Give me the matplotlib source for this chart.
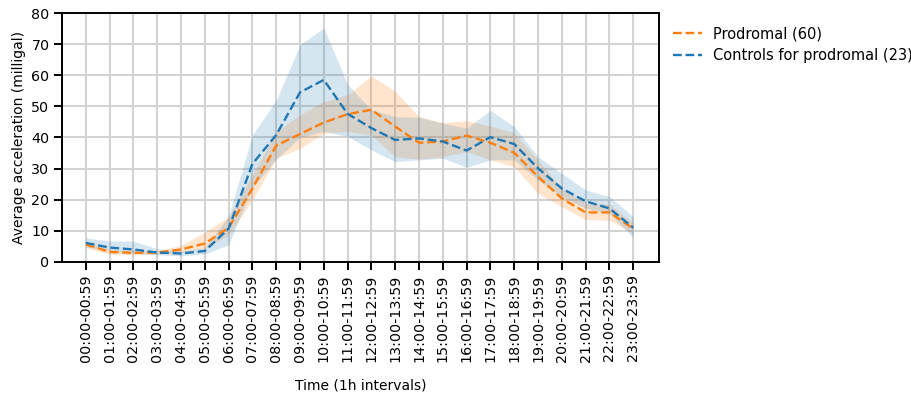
import matplotlib.pyplot as plt

hours = [f"{h:02d}:00-{h:02d}:59" for h in range(24)]

prodromal_mean = [5.6, 3.2, 2.9, 3.0, 4.0, 5.9, 11.0, 23.6, 37.4, 41.1, 44.8, 47.5,
                  48.9, 43.5, 38.3, 38.7, 40.6, 38.3, 35.1, 27.4, 20.4, 15.9, 15.9, 10.7]
prodromal_low = [4.5, 2.5, 2.3, 2.5, 3.0, 4.3, 8.6, 19.9, 33.3, 36.5, 41.4, 41.9,
                 40.8, 33.8, 33.0, 33.8, 35.4, 32.8, 30.6, 22.0, 17.7, 13.6, 13.4, 9.1]
prodromal_high = [6.5, 4.0, 3.7, 3.6, 5.3, 9.6, 14.5, 28.0, 41.9, 47.3, 51.6, 53.7,
                  59.8, 54.8, 46.7, 44.8, 45.4, 43.7, 41.4, 32.8, 23.6, 19.0, 18.6, 12.4]

control_mean = [6.1, 4.6, 4.0, 3.0, 2.7, 3.5, 10.7, 31.5, 40.8, 54.5, 58.5, 47.6,
                43.0, 39.2, 39.7, 38.7, 35.8, 40.1, 37.9, 30.1, 23.6, 19.5, 17.2, 11.0]
control_low = [4.8, 3.8, 2.8, 2.3, 2.0, 2.5, 5.5, 24.0, 33.0, 40.0, 42.0, 40.3,
               36.0, 32.2, 32.8, 33.3, 30.4, 32.8, 32.8, 26.3, 21.0, 17.2, 15.6, 7.8]
control_high = [7.7, 6.7, 6.7, 4.2, 3.5, 4.5, 14.7, 40.8, 52.0, 69.8, 75.2, 57.0,
                48.9, 46.7, 46.5, 44.6, 43.0, 48.7, 43.5, 33.8, 28.5, 23.1, 21.0, 14.5]

ORANGE = "#ff7f0e"
BLUE = "#1f77b4"

fig = plt.figure(figsize=(9.12, 3.95), dpi=100)
ax = fig.add_axes([0.068, 0.337, 0.655, 0.630])

x = list(range(len(hours)))
ax.fill_between(x, prodromal_low, prodromal_high, color=ORANGE, alpha=0.2, linewidth=0)
ax.fill_between(x, control_low, control_high, color=BLUE, alpha=0.18, linewidth=0)
ax.plot(x, prodromal_mean, color=ORANGE, linestyle="--", linewidth=1.7, label="Prodromal (60)")
ax.plot(x, control_mean, color=BLUE, linestyle="--", linewidth=1.7, label="Controls for prodromal (23)")

ax.set_xticks(x)
ax.set_xticklabels(hours, rotation=90, fontsize=10.3)
ax.set_xlim(-1, 24.1)
ax.set_ylim(0, 80)
ax.set_yticks(range(0, 81, 10))
ax.tick_params(axis="y", labelsize=10.3)
ax.grid(True, color="#d3d3d3", linewidth=1.5)
ax.set_axisbelow(True)
for spine in ax.spines.values():
    spine.set_linewidth(1.4)
ax.tick_params(width=1.4, length=5.5)

ax.set_xlabel("Time (1h intervals)", labelpad=12)
ax.set_ylabel("Average acceleration (milligal)")
ax.legend(loc="upper left", bbox_to_anchor=(1.0, 1.0), frameon=False, fontsize=10.5)

fig.savefig("out.png", dpi=100, facecolor="white")
